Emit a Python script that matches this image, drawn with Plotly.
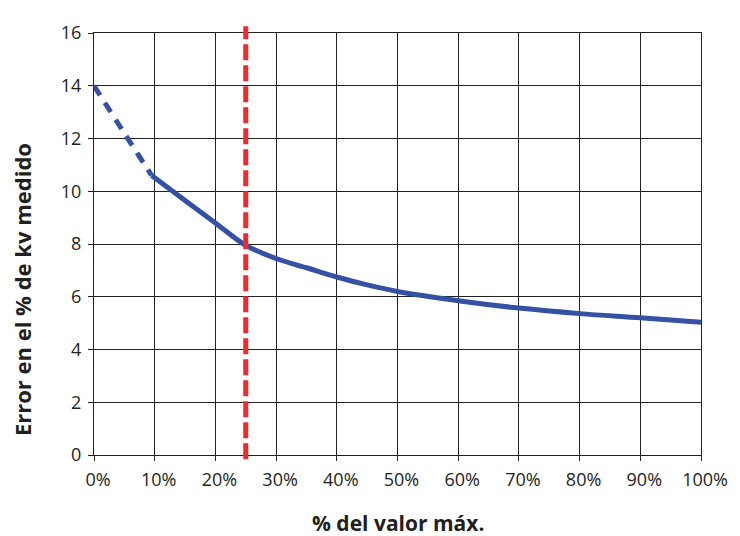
import plotly.graph_objects as go

x_dashed = [0, 5, 9.5]
y_dashed = [14.0, 12.2, 10.6]
x_solid = [9.5, 15, 20, 25, 30, 35, 40, 45, 50, 60, 70, 80, 90, 100]
y_solid = [10.6, 9.65, 8.8, 7.95, 7.45, 7.1, 6.75, 6.45, 6.2, 5.85, 5.57, 5.36, 5.2, 5.03]
x_ticks = [0, 10, 20, 30, 40, 50, 60, 70, 80, 90, 100]
x_tick_labels = [f"{v}%" for v in x_ticks]
y_ticks = [0, 2, 4, 6, 8, 10, 12, 14, 16]
threshold_x = 25
x_title = "% del valor máx."
y_title = "Error en el % de kv medido"

blue = "#3451A3"
red = "#EE2A2F"
txt = "#231F20"

fig = go.Figure()
fig.add_trace(go.Scatter(x=x_dashed, y=y_dashed, mode="lines",
                         line=dict(color=blue, width=5, dash="11px,9px", shape="spline"),
                         showlegend=False, hoverinfo="skip"))
fig.add_trace(go.Scatter(x=x_solid, y=y_solid, mode="lines",
                         line=dict(color=blue, width=5, shape="spline"),
                         showlegend=False))

fig.add_shape(type="line", xref="x", yref="paper", x0=threshold_x, x1=threshold_x,
              y0=-0.01, y1=1.016, line=dict(color=red, width=5, dash="16px,5px"))

fig.add_annotation(text=f"<b>{x_title}</b>", xref="paper", yref="paper", x=0.5, y=-0.162,
                   xanchor="center", yanchor="middle", showarrow=False,
                   font=dict(size=21, color=txt))
fig.add_annotation(text=f"<b>{y_title}</b>", xref="paper", yref="paper", x=-0.1187, y=0.393,
                   xanchor="center", yanchor="middle", showarrow=False, textangle=-90,
                   font=dict(size=22, color=txt))

fig.update_layout(
    width=732, height=528,
    margin=dict(l=86, r=35, t=15, b=81),
    paper_bgcolor="white", plot_bgcolor="white",
    font=dict(family="Open Sans, Liberation Sans, sans-serif", size=18, color=txt),
    xaxis=dict(range=[0, 100], tickvals=x_ticks, ticktext=x_tick_labels,
               showgrid=True, gridcolor="#222", gridwidth=1,
               showline=True, linecolor="#222", linewidth=1, mirror=True,
               ticks="outside", ticklen=5, tickcolor="#222", zeroline=False,
               ticklabelshift=4, ticklabelstandoff=3),
    yaxis=dict(range=[0, 16], tickvals=y_ticks,
               showgrid=True, gridcolor="#222", gridwidth=1,
               showline=True, linecolor="#222", linewidth=1, mirror=True,
               ticks="outside", ticklen=5, tickcolor="#222", zeroline=False,
               ticklabelstandoff=3),
)

fig.write_html("out.html")
